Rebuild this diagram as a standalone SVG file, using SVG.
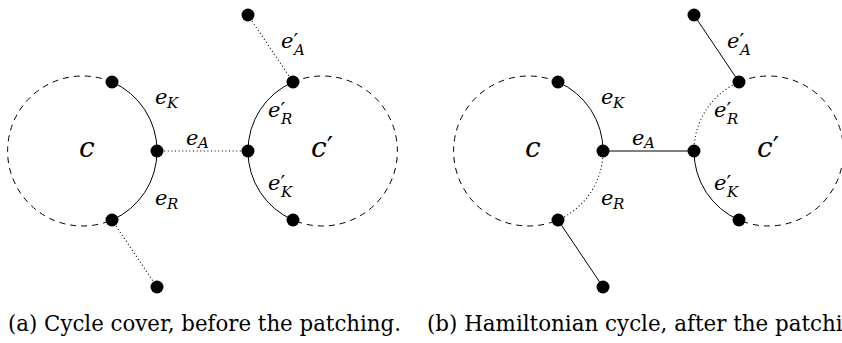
<svg xmlns="http://www.w3.org/2000/svg" width="842" height="343" viewBox="0 0 842 343">
<style>
.solid{fill:none;stroke:#000;stroke-width:1}
.dash{fill:none;stroke:#000;stroke-width:1;stroke-dasharray:6 5}
.dot{fill:none;stroke:#000;stroke-width:1.1;stroke-dasharray:1 2.6}
.node{fill:#000}
.m{font-style:italic;font-size:21px}
.s{font-size:15px}
.p{font-style:normal}
.big{font-style:italic;font-size:28px}
.cap{font-size:22px}
</style>
<g id="connectors">
  <path class="dash" d="M112,82 A75,75 0 1 0 112,220"/>
  <path class="solid" d="M112,82 A75,75 0 0 1 157,151"/>
  <path class="solid" d="M157,151 A75,75 0 0 1 112,220"/>
  <path class="dash" d="M293,82 A75,75 0 1 1 293,220"/>
  <path class="solid" d="M293,82 A75,75 0 0 0 248,151"/>
  <path class="solid" d="M248,151 A75,75 0 0 0 293,220"/>
  <path class="dot" d="M157,151 L248,151"/>
  <path class="dot" d="M248,15 L293,82"/>
  <path class="dot" d="M112,220 L157,287"/>
  <path class="dash" d="M558,82 A75,75 0 1 0 558,220"/>
  <path class="solid" d="M558,82 A75,75 0 0 1 603,151"/>
  <path class="dot" d="M603,151 A75,75 0 0 1 558,220"/>
  <path class="dash" d="M739,82 A75,75 0 1 1 739,220"/>
  <path class="dot" d="M739,82 A75,75 0 0 0 694,151"/>
  <path class="solid" d="M694,151 A75,75 0 0 0 739,220"/>
  <path class="solid" d="M603,151 L694,151"/>
  <path class="solid" d="M694,15 L739,82"/>
  <path class="solid" d="M558,220 L603,287"/>
</g>
<g id="nodes-a">
  <circle id="a-cT" class="node" cx="112" cy="82" r="6.5"/>
  <circle id="a-cR" class="node" cx="157" cy="151" r="6.5"/>
  <circle id="a-cB" class="node" cx="112" cy="220" r="6.5"/>
  <circle id="a-dL" class="node" cx="248" cy="151" r="6.5"/>
  <circle id="a-dT" class="node" cx="293" cy="82" r="6.5"/>
  <circle id="a-dB" class="node" cx="293" cy="220" r="6.5"/>
  <circle id="a-top" class="node" cx="248" cy="15" r="6.5"/>
  <circle id="a-bot" class="node" cx="157" cy="287" r="6.5"/>
</g>
<g id="nodes-b">
  <circle id="b-cT" class="node" cx="558" cy="82" r="6.5"/>
  <circle id="b-cR" class="node" cx="603" cy="151" r="6.5"/>
  <circle id="b-cB" class="node" cx="558" cy="220" r="6.5"/>
  <circle id="b-dL" class="node" cx="694" cy="151" r="6.5"/>
  <circle id="b-dT" class="node" cx="739" cy="82" r="6.5"/>
  <circle id="b-dB" class="node" cx="739" cy="220" r="6.5"/>
  <circle id="b-top" class="node" cx="694" cy="15" r="6.5"/>
  <circle id="b-bot" class="node" cx="603" cy="287" r="6.5"/>
</g>
<g id="labels-a" font-family="DejaVu Serif, serif" fill="#000">
  <text class="big" x="79" y="157">c</text>
  <text class="big" x="311" y="157">c<tspan class="p">′</tspan></text>
  <text class="m" x="155" y="104">e<tspan class="s" x="167" y="108">K</tspan></text>
  <text class="m" x="186" y="145">e<tspan class="s" x="198" y="148">A</tspan></text>
  <text class="m" x="155" y="205">e<tspan class="s" x="167" y="209">R</tspan></text>
  <text class="m" x="268" y="117">e<tspan class="p">′</tspan><tspan class="s" x="281" y="124">R</tspan></text>
  <text class="m" x="268" y="190">e<tspan class="p">′</tspan><tspan class="s" x="281" y="197">K</tspan></text>
  <text class="m" x="281" y="48">e<tspan class="p">′</tspan><tspan class="s" x="294" y="55">A</tspan></text>
</g>
<g id="labels-b" font-family="DejaVu Serif, serif" fill="#000">
  <text class="big" x="525" y="157">c</text>
  <text class="big" x="757" y="157">c<tspan class="p">′</tspan></text>
  <text class="m" x="601" y="104">e<tspan class="s" x="613" y="108">K</tspan></text>
  <text class="m" x="632" y="145">e<tspan class="s" x="644" y="148">A</tspan></text>
  <text class="m" x="601" y="205">e<tspan class="s" x="613" y="209">R</tspan></text>
  <text class="m" x="714" y="117">e<tspan class="p">′</tspan><tspan class="s" x="727" y="124">R</tspan></text>
  <text class="m" x="714" y="190">e<tspan class="p">′</tspan><tspan class="s" x="727" y="197">K</tspan></text>
  <text class="m" x="727" y="48">e<tspan class="p">′</tspan><tspan class="s" x="740" y="55">A</tspan></text>
</g>
<g id="captions" font-family="DejaVu Serif, serif" fill="#000">
  <text class="cap" x="8" y="331" textLength="393" lengthAdjust="spacingAndGlyphs">(a) Cycle cover, before the patching.</text>
  <text class="cap" x="427" y="331" textLength="450" lengthAdjust="spacingAndGlyphs">(b) Hamiltonian cycle, after the patching.</text>
</g>
</svg>
